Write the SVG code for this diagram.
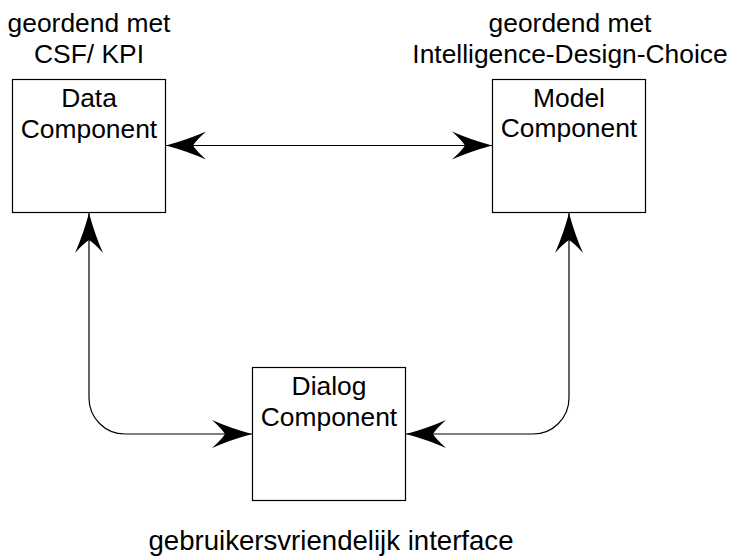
<svg xmlns="http://www.w3.org/2000/svg" width="735" height="559" viewBox="0 0 735 559">
<style>
.box{fill:#fff;stroke:#000;stroke-width:1.2}
.t{font-family:"Liberation Sans",Arial,sans-serif;font-size:26.4px;fill:#000;text-anchor:middle}
.c{fill:none;stroke:#000;stroke-width:1.2}
</style>
<defs>
<marker id="ah" markerUnits="userSpaceOnUse" markerWidth="44" markerHeight="32" viewBox="-42 -16 44 32" refX="0" refY="0" orient="auto-start-reverse" overflow="visible">
<path d="M0,0 Q-22,-6 -40,-14 Q-30,-5 -27,0 Q-30,5 -40,14 Q-22,6 0,0 Z" fill="#000"/>
</marker>
</defs>
<rect width="735" height="559" fill="#fff"/>
<text class="t" x="89" y="32">geordend met</text>
<text class="t" x="89" y="63">CSF/ KPI</text>
<text class="t" x="570" y="32">geordend met</text>
<text class="t" x="570" y="63">Intelligence-Design-Choice</text>
<text class="t" x="331" y="550" style="font-size:27.6px">gebruikersvriendelijk interface</text>
<g id="data">
<rect class="box" x="12.5" y="79.5" width="153" height="133"/>
<text class="t" x="89" y="107">Data</text>
<text class="t" x="89" y="138">Component</text>
</g>
<g id="model">
<rect class="box" x="492.5" y="79.5" width="153" height="133"/>
<text class="t" x="569" y="107">Model</text>
<text class="t" x="569" y="137">Component</text>
</g>
<g id="dialog">
<rect class="box" x="252.5" y="367.5" width="153" height="133"/>
<text class="t" x="329" y="395">Dialog</text>
<text class="t" x="329" y="426">Component</text>
</g>
<g id="connectors">
<path class="c" d="M166,145.5 L492,145.5" marker-start="url(#ah)" marker-end="url(#ah)"/>
<path class="c" d="M89,213 L89,398 A36,36 0 0 0 125,434 L252,434" marker-start="url(#ah)" marker-end="url(#ah)"/>
<path class="c" d="M569,213 L569,398 A36,36 0 0 1 533,434 L406,434" marker-start="url(#ah)" marker-end="url(#ah)"/>
</g>
</svg>
